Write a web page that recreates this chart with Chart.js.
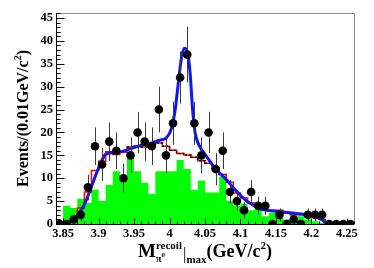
<!DOCTYPE html>
<html>
<head>
<meta charset="utf-8">
<script src="https://cdn.jsdelivr.net/npm/chart.js@4.4.1/dist/chart.umd.min.js"></script>
<style>
  html, body { margin: 0; padding: 0; background: #fff; }
</style>
</head>
<body>
<canvas id="hist" width="374" height="268"></canvas>
<script>
// bin centres, 0.01 GeV/c^2 wide
const binCenters = [3.845, 3.855, 3.865, 3.875, 3.885, 3.895, 3.905, 3.915, 3.925, 3.935,
  3.945, 3.955, 3.965, 3.975, 3.985, 3.995, 4.005, 4.015, 4.025, 4.035,
  4.045, 4.055, 4.065, 4.075, 4.085, 4.095, 4.105, 4.115, 4.125, 4.135,
  4.145, 4.155, 4.165, 4.175, 4.185, 4.195, 4.205, 4.215, 4.225, 4.235,
  4.245, 4.255];

// data points and their error bars
const dataCounts = [0, 0, 1, 2, 8, 17, 13, 18, 16, 10, 15, 20, 18, 17, 25, 15, 22, 32, 37, 22,
  15, 20, 12, 16, 7, 5, 3, 7, 4, 4, 0, 2, 0, 1, 0, 2, 2, 2, 0, 0, 0, 0];
const dataErrors = [0, 0, 1, 1.4, 2.8, 4.1, 3.6, 4.2, 4, 3.2, 3.9, 4.5, 4.2, 4.1, 5, 3.9, 4.7, 5.7, 6.1, 4.7,
  3.9, 4.5, 3.5, 4, 2.6, 2.2, 1.7, 2.6, 2, 2, 0, 1.4, 0, 1, 0, 1.4, 1.4, 1.4, 0, 0, 0, 0];

// green filled histogram
const greenHist = [0, 4.0, 3.5, 5.5, 4.6, 7.5, 5.0, 8.5, 11.5, 9.7, 15.4, 11.5, 9.0, 6.6, 11.5, 11.5, 11.5, 14.0, 12.0, 7.5,
  9.5, 6.9, 6.9, 10.4, 5.0, 4.0, 4.4, 3.0, 4.0, 1.7, 2.4, 1.7, 1.0, 2.0, 1.7, 1.0, 0.6, 0.2, 0, 0, 0, 0];

// red open histogram
const redHist = [0, 0, 0.5, 3.5, 7, 11.7, 13.7, 15.8, 15.2, 15.7, 16.8, 17, 16.8, 17, 17.7, 17, 16.1, 15.4, 15.1, 14.6,
  13.8, 13.3, 12.2, 10.8, 9.1, 6.8, 5.7, 4.6, 4.2, 3.1, 3, 3, 2.4, 2, 2, 2, 1.7, 1, 0, 0, 0, 0];

// black dashed background shape
const dashedCenters = [3.945, 3.955, 3.965, 3.975, 3.985, 3.995, 4.005, 4.015, 4.025, 4.035, 4.045, 4.055, 4.065, 4.075];
const dashedHist = [16.8, 17, 16.8, 17, 17.7, 17, 16.1, 15.4, 15.1, 14.6, 13.8, 13.3, 12.2, 10.8];

// blue fit curve
const fitX = [3.84, 3.855, 3.862, 3.871, 3.881, 3.89, 3.9, 3.909, 3.916, 3.93,
  3.944, 3.958, 3.972, 3.986, 3.996, 4.003, 4.008, 4.0125, 4.017, 4.021,
  4.025, 4.029, 4.0325, 4.036, 4.043, 4.052, 4.061, 4.071, 4.08, 4.09,
  4.099, 4.108, 4.118, 4.127, 4.137, 4.155, 4.174, 4.193, 4.207, 4.216,
  4.223, 4.26];
const fitY = [0, 0, 0.6, 2, 4.6, 8.2, 12.2, 15.1, 15.5, 15.7,
  16.4, 17.1, 17.6, 18.3, 18.9, 21, 25, 31, 36.5, 38.4,
  37.6, 33, 25, 20, 16.8, 14.8, 12.8, 11.1, 9.7, 7.9,
  6.4, 5.1, 4.1, 3.3, 3.0, 2.7, 2.4, 2.0, 1.5, 0.8,
  0, 0];

// axis ticks and labels
const xTickValues = [3.85, 3.9, 3.95, 4.0, 4.05, 4.1, 4.15, 4.2, 4.25];
const xTickLabels = ['3.85', '3.9', '3.95', '4', '4.05', '4.1', '4.15', '4.2', '4.25'];
const yTickValues = [0, 5, 10, 15, 20, 25, 30, 35, 40, 45];
const yTickLabels = ['0', '5', '10', '15', '20', '25', '30', '35', '40', '45'];

const SERIF = '"Liberation Serif", "DejaVu Serif", serif';
const HALF = 0.005;

// turn bin contents into points for a stepped line
function steps(centers, vals) {
  const pts = centers.map((c, i) => ({ x: c - HALF, y: vals[i] }));
  pts.push({ x: centers[centers.length - 1] + HALF, y: vals[vals.length - 1] });
  return pts;
}

const errorBars = {
  id: 'errorBars',
  beforeDatasetDraw(chart, args) {
    if (args.index !== 4) return;
    const { ctx, scales: { x, y } } = chart;
    ctx.save();
    ctx.strokeStyle = '#3a3a3a';
    ctx.lineWidth = 1;
    ctx.beginPath();
    binCenters.forEach((c, i) => {
      if (!dataErrors[i]) return;
      const px = Math.round(x.getPixelForValue(c)) + 0.5;
      ctx.moveTo(px, y.getPixelForValue(dataCounts[i] + dataErrors[i]));
      ctx.lineTo(px, y.getPixelForValue(Math.max(0, dataCounts[i] - dataErrors[i])));
    });
    ctx.stroke();
    ctx.restore();
  }
};

const frameAndTitles = {
  id: 'frameAndTitles',
  afterDatasetsDraw(chart) {
    const { ctx, chartArea: a, scales: { x, y } } = chart;
    ctx.save();
    ctx.lineWidth = 1;
    // grey top and right edges
    ctx.strokeStyle = '#8c8c8c';
    ctx.beginPath();
    ctx.moveTo(a.left, a.top + 0.5);
    ctx.lineTo(Math.round(a.right) + 0.5, a.top + 0.5);
    ctx.lineTo(Math.round(a.right) + 0.5, a.bottom);
    ctx.stroke();
    // black axes with inward ticks
    ctx.strokeStyle = '#000';
    ctx.beginPath();
    const lx = Math.round(a.left) + 0.5, by = Math.round(a.bottom) + 0.5;
    ctx.moveTo(lx, a.top);
    ctx.lineTo(lx, by);
    ctx.lineTo(a.right, by);
    for (let v = 0; v <= 46; v++) {
      const py = Math.round(y.getPixelForValue(v)) + 0.5;
      ctx.moveTo(lx, py);
      ctx.lineTo(lx + (v % 5 === 0 ? 8 : 4), py);
    }
    for (let k = 0; k <= 42; k++) {
      const px = Math.round(x.getPixelForValue(3.84 + k * 0.01)) + 0.5;
      ctx.moveTo(px, by);
      ctx.lineTo(px, by - (k % 5 === 1 ? 6 : 3));
    }
    ctx.stroke();

    ctx.fillStyle = '#000';
    ctx.textAlign = 'left';
    ctx.textBaseline = 'alphabetic';
    const F = s => 'bold ' + s + 'px ' + SERIF;

    // x title: M_{pi0}^{recoil}|_max (GeV/c^2)
    ctx.font = F(19); const wM = ctx.measureText('M').width;
    ctx.font = F(11); const wRec = ctx.measureText('recoil').width;
    ctx.font = F(10); const wPi = ctx.measureText('\u03c0').width;
    ctx.font = F(7); const w0 = ctx.measureText('0').width;
    ctx.font = 'normal 17px ' + SERIF; const wBar = ctx.measureText('|').width;
    ctx.font = F(11); const wMax = ctx.measureText('max').width;
    ctx.font = F(18); const wU1 = ctx.measureText('(GeV/c').width;
    ctx.font = F(11); const w2 = ctx.measureText('2').width;
    ctx.font = F(18); const wU2 = ctx.measureText(')').width;
    const wScr = Math.max(wRec, wPi + w0);
    const total = wM + wScr + 1 + wBar + wMax + wU1 + w2 + wU2;
    let tx = (a.left + a.right) / 2 - total / 2;
    const base = 257;
    ctx.font = F(19); ctx.fillText('M', tx, base); tx += wM;
    ctx.font = F(11); ctx.fillText('recoil', tx, base - 8);
    ctx.font = F(10); ctx.fillText('\u03c0', tx, base + 5);
    ctx.font = F(7); ctx.fillText('0', tx + wPi, base);
    tx += wScr + 1;
    ctx.font = 'normal 17px ' + SERIF; ctx.fillText('|', tx, base + 2); tx += wBar;
    ctx.font = F(11); ctx.fillText('max', tx, base + 6); tx += wMax;
    ctx.font = F(18); ctx.fillText('(GeV/c', tx, base); tx += wU1;
    ctx.font = F(11); ctx.fillText('2', tx, base - 8); tx += w2;
    ctx.font = F(18); ctx.fillText(')', tx, base);

    // y title, rotated
    ctx.translate(28, (a.top + a.bottom) / 2);
    ctx.rotate(-Math.PI / 2);
    ctx.font = F(16); const wy1 = ctx.measureText('Events/(0.01GeV/c').width;
    ctx.font = F(10); const wy2 = ctx.measureText('2').width;
    ctx.font = F(16); const wy3 = ctx.measureText(')').width;
    let ty = -(wy1 + wy2 + wy3) / 2;
    ctx.font = F(16); ctx.fillText('Events/(0.01GeV/c', ty, 0); ty += wy1;
    ctx.font = F(10); ctx.fillText('2', ty, -7); ty += wy2;
    ctx.font = F(16); ctx.fillText(')', ty, 0);
    ctx.restore();
  }
};

new Chart(document.getElementById('hist').getContext('2d'), {
  type: 'scatter',
  data: {
    datasets: [
      {
        type: 'line',
        data: steps(binCenters, greenHist),
        stepped: 'before',
        fill: 'origin',
        backgroundColor: '#00ff00',
        borderWidth: 0,
        pointRadius: 0,
        order: 5
      },
      {
        type: 'line',
        data: steps(binCenters, redHist),
        stepped: 'before',
        fill: false,
        borderColor: '#ff0000',
        borderWidth: 1.5,
        pointRadius: 0,
        order: 4
      },
      {
        type: 'line',
        data: steps(dashedCenters, dashedHist),
        stepped: 'before',
        fill: false,
        borderColor: '#000',
        borderWidth: 1.5,
        borderDash: [2, 2],
        pointRadius: 0,
        order: 3
      },
      {
        type: 'line',
        data: fitX.map((v, i) => ({ x: v, y: fitY[i] })),
        cubicInterpolationMode: 'monotone',
        fill: false,
        borderColor: '#1414f0',
        borderWidth: 3,
        pointRadius: 0,
        order: 2
      },
      {
        type: 'scatter',
        data: binCenters.map((c, i) => ({ x: c, y: dataCounts[i] })),
        backgroundColor: '#000',
        borderWidth: 0,
        pointRadius: 4.3,
        order: 1
      }
    ]
  },
  options: {
    responsive: false,
    devicePixelRatio: 1,
    animation: false,
    layout: { padding: { top: 13, right: 20, left: 0, bottom: 0 } },
    plugins: { legend: { display: false }, tooltip: { enabled: false } },
    scales: {
      x: {
        type: 'linear',
        min: 3.84,
        max: 4.26,
        grid: { display: false, drawTicks: false },
        border: { display: false },
        afterBuildTicks: s => { s.ticks = xTickValues.map(v => ({ value: v })); },
        afterFit: s => { s.height = 44; },
        ticks: {
          autoSkip: false,
          maxRotation: 0,
          padding: 2,
          color: '#000',
          font: { family: SERIF, weight: 'bold', size: 12.5 },
          callback: (v, i) => xTickLabels[i]
        }
      },
      y: {
        min: 0,
        max: 46.1,
        grid: { display: false, drawTicks: false },
        border: { display: false },
        afterBuildTicks: s => { s.ticks = yTickValues.map(v => ({ value: v })); },
        afterFit: s => { s.width = 56; },
        ticks: {
          padding: 3,
          color: '#000',
          font: { family: SERIF, weight: 'bold', size: 12.5 },
          callback: (v, i) => yTickLabels[i]
        }
      }
    }
  },
  plugins: [errorBars, frameAndTitles]
});
</script>
</body>
</html>
